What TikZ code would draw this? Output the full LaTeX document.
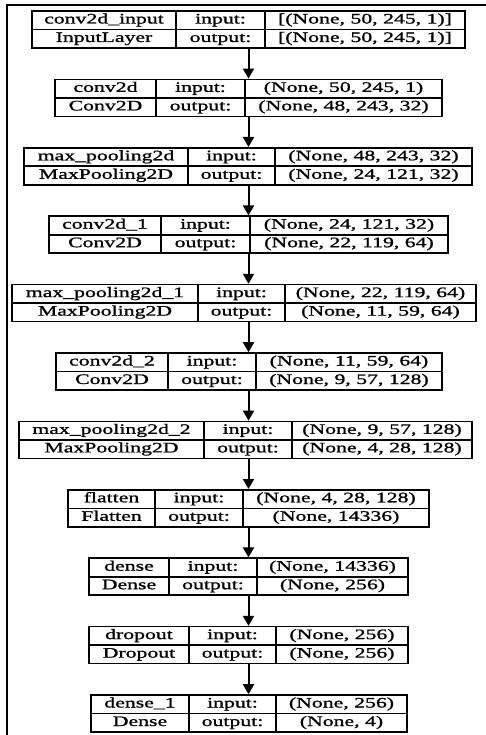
\documentclass[tikz,border=0pt]{standalone}
\usepackage{fontspec}
\setmainfont{Liberation Serif}[FakeStretch=1.5,FakeBold=1.2]
\usetikzlibrary{arrows.meta}
\tikzset{
  boxframe/.style={draw, line width=1.6pt, inner sep=0pt},
  cellline/.style={line width=1.6pt},
  celltxt/.style={inner sep=0pt, font=\fontsize{14.5}{15}\selectfont},
  conn/.style={line width=2pt, -{Triangle[length=10pt,width=11pt]}},
  outer/.style={line width=2pt}
}
\newcommand\lyr[6]{%
  \pgfmathsetmacro\lyW{#6-#3}%
  \pgfmathsetmacro\lyX{(#3+#6)/2}%
  \pgfmathsetmacro\lyY{#2+18.5}%
  \node[boxframe, minimum width=\lyW pt, minimum height=37pt] (#1) at (\lyX,\lyY) {};
  \draw[cellline] (#3,\lyY) -- (#6,\lyY);
  \draw[cellline] (#4,#2) -- (#4,#2+37);
  \draw[cellline] (#5,#2) -- (#5,#2+37);
  \coordinate (#1-a1) at ({(#3+#4)/2},{#2+9.5});
  \coordinate (#1-a2) at ({(#3+#4)/2},{#2+28});
  \coordinate (#1-b1) at ({(#4+#5)/2},{#2+9.5});
  \coordinate (#1-b2) at ({(#4+#5)/2},{#2+28});
  \coordinate (#1-c1) at ({(#5+#6)/2},{#2+9.5});
  \coordinate (#1-c2) at ({(#5+#6)/2},{#2+28});
}
\newcommand\lyrtext[5]{%
  \node[celltxt] (#1-t1) at (#1-a1) {\strut #2};
  \node[celltxt] (#1-t2) at (#1-a2) {\strut #3};
  \node[celltxt] (#1-t3) at (#1-b1) {\strut input:};
  \node[celltxt] (#1-t4) at (#1-b2) {\strut output:};
  \node[celltxt] (#1-t5) at (#1-c1) {\strut #4};
  \node[celltxt] (#1-t6) at (#1-c2) {\strut #5};
}
\begin{document}
\begin{tikzpicture}[x=1pt,y=-1pt]
\useasboundingbox (0,0) rectangle (486,735);
\draw[outer] (486,5) -- (7,5) -- (7,735);
\coordinate (axis) at (248.5,0);

\lyr{L1}{11}{32}{176}{265}{465}
\lyrtext{L1}{conv2d\_input}{InputLayer}{[(None, 50, 245, 1)]}{[(None, 50, 245, 1)]}
\lyr{L2}{79.4}{55}{156}{245}{442}
\lyrtext{L2}{conv2d}{Conv2D}{(None, 50, 245, 1)}{(None, 48, 243, 32)}
\lyr{L3}{147.8}{24}{188}{275}{472}
\lyrtext{L3}{max\_pooling2d}{MaxPooling2D}{(None, 48, 243, 32)}{(None, 24, 121, 32)}
\lyr{L4}{216.2}{49}{161}{250}{448}
\lyrtext{L4}{conv2d\_1}{Conv2D}{(None, 24, 121, 32)}{(None, 22, 119, 64)}
\lyr{L5}{284.6}{12}{198}{285}{476}
\lyrtext{L5}{max\_pooling2d\_1}{MaxPooling2D}{(None, 22, 119, 64)}{(None, 11, 59, 64)}
\lyr{L6}{353}{56}{168}{256}{442}
\lyrtext{L6}{conv2d\_2}{Conv2D}{(None, 11, 59, 64)}{(None, 9, 57, 128)}
\lyr{L7}{421.4}{19}{204}{292}{472}
\lyrtext{L7}{max\_pooling2d\_2}{MaxPooling2D}{(None, 9, 57, 128)}{(None, 4, 28, 128)}
\lyr{L8}{489.8}{68}{155}{243}{429}
\lyrtext{L8}{flatten}{Flatten}{(None, 4, 28, 128)}{(None, 14336)}
\lyr{L9}{558.2}{89}{169}{257}{408}
\lyrtext{L9}{dense}{Dense}{(None, 14336)}{(None, 256)}
\lyr{L10}{626.6}{89}{189}{276}{408}
\lyrtext{L10}{dropout}{Dropout}{(None, 256)}{(None, 256)}
\lyr{L11}{695}{91}{189}{276}{407}
\lyrtext{L11}{dense\_1}{Dense}{(None, 256)}{(None, 4)}

\foreach \a/\b in {L1/L2,L2/L3,L3/L4,L4/L5,L5/L6,L6/L7,L7/L8,L8/L9,L9/L10,L10/L11}
  \draw[conn] (\a.south -| axis) -- (\b.north -| axis);
\end{tikzpicture}
\end{document}
